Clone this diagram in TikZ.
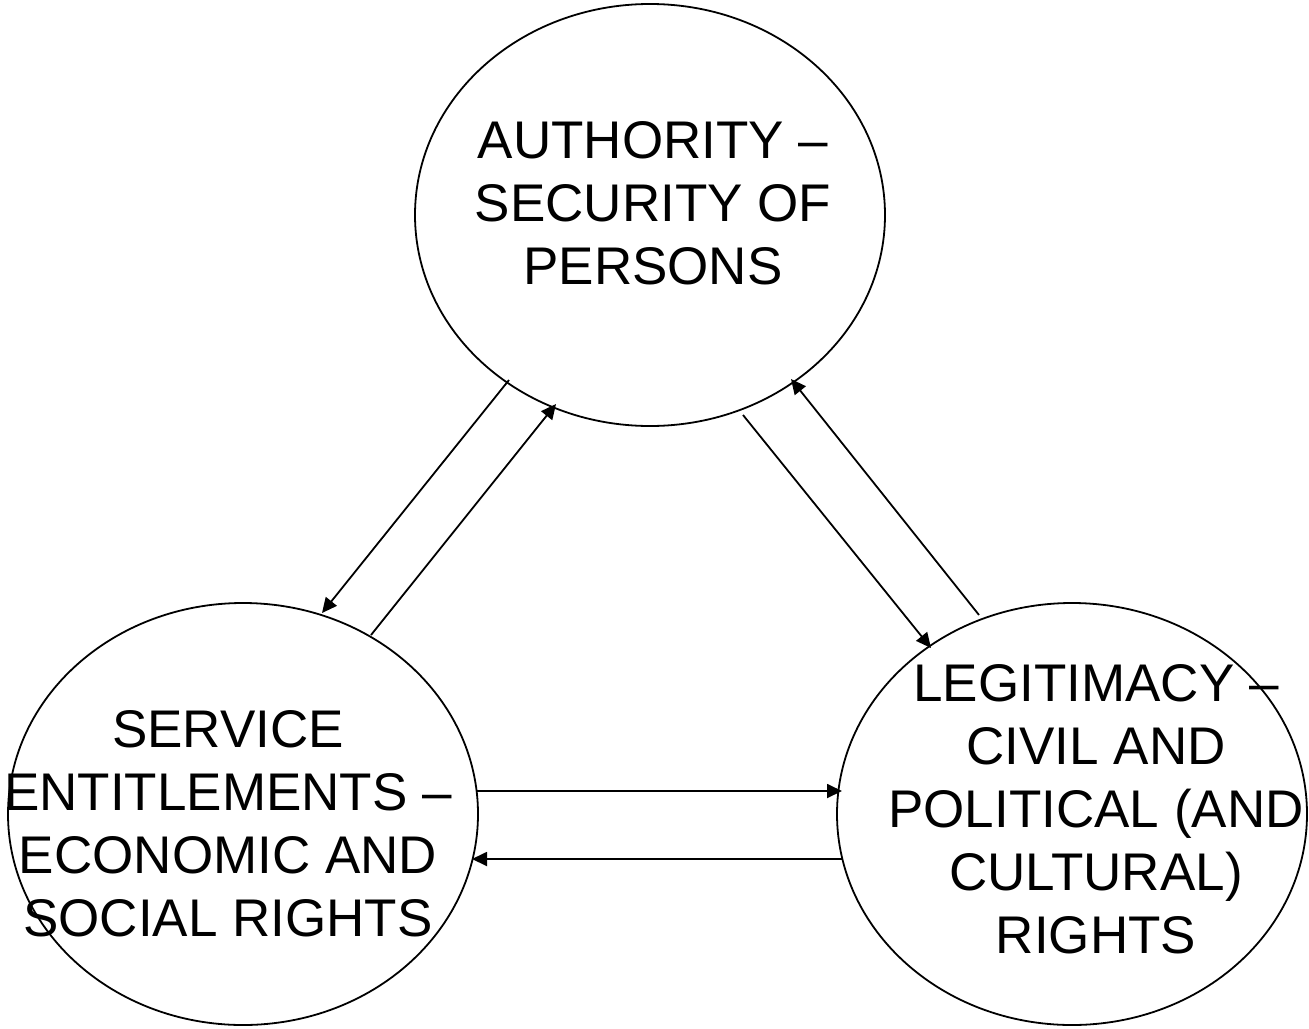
\documentclass[tikz,border=0pt]{standalone}
\usepackage{fontspec}
\setmainfont{Liberation Sans}
\usetikzlibrary{arrows.meta,shapes.geometric}
\begin{document}
\begin{tikzpicture}[x=1pt,y=-1pt,
  bubble/.style={draw=black,line width=1.8pt,ellipse,minimum width=470pt,minimum height=422pt,inner sep=0pt},
  bubbletext/.style={align=center,font=\fontsize{53}{63}\selectfont,inner sep=0pt},
  link/.style={draw=black,line width=1.8pt,-{Triangle[length=15pt,width=14pt]}}]
\useasboundingbox (0,0) rectangle (1309,1028);
\node[bubble] (auth) at (650,215) {};
\node[bubble] (serv) at (243,814) {};
\node[bubble] (legit) at (1072,814) {};
\node[bubbletext] (authtxt) at (653,203.5) {AUTHORITY --\\SECURITY OF\\PERSONS};
\node[bubbletext] (servtxt) at (228,824) {SERVICE\\ENTITLEMENTS --\\ECONOMIC AND\\SOCIAL RIGHTS};
\node[bubbletext] (legittxt) at (1096,809.5) {LEGITIMACY --\\CIVIL AND\\POLITICAL (AND\\CULTURAL)\\RIGHTS};
\coordinate (a1) at (509,380);
\coordinate (s1) at (322,613);
\coordinate (s2) at (371,635);
\coordinate (a2) at (556,404);
\coordinate (a3) at (743,415);
\coordinate (l3) at (931,648);
\coordinate (l4) at (979,615);
\coordinate (a4) at (791,379);
\coordinate (s5) at (477,791);
\coordinate (l5) at (842,791);
\coordinate (l6) at (842,859);
\coordinate (s6) at (472,859);
\draw[link] (a1) -- (s1);
\draw[link] (s2) -- (a2);
\draw[link] (a3) -- (l3);
\draw[link] (l4) -- (a4);
\draw[link] (s5) -- (l5);
\draw[link] (l6) -- (s6);
\end{tikzpicture}
\end{document}
